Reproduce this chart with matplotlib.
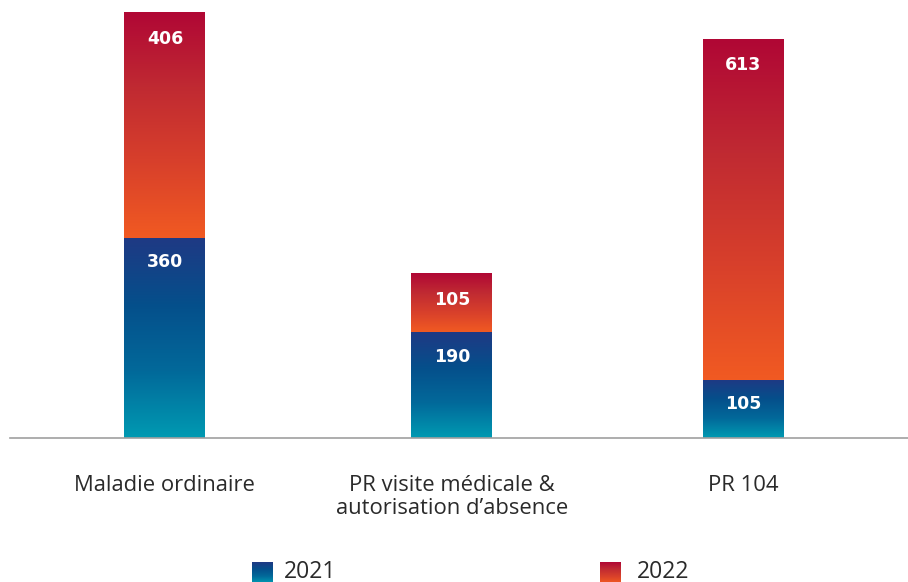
import matplotlib
matplotlib.use("Agg")
import matplotlib.pyplot as plt
from matplotlib.colors import LinearSegmentedColormap
import numpy as np

categories = ["Maladie ordinaire", "PR visite médicale &\nautorisation d’absence", "PR 104"]
years = ["2021", "2022"]
v2021 = [360, 190, 105]
v2022 = [406, 105, 613]

plt.rcParams['font.family'] = ['Open Sans', 'DejaVu Sans']

# vertical gradients, bottom -> top
cmap21 = LinearSegmentedColormap.from_list("c21", ["#009ab2", "#02699a", "#054f8b", "#1f3984"])
cmap22 = LinearSegmentedColormap.from_list("c22", ["#f15a22", "#d8402b", "#c02a32", "#b00735"])
grad = np.linspace(0, 1, 256).reshape(-1, 1)

fig = plt.figure(figsize=(9.08, 5.82), dpi=100)
ax = fig.add_axes([10/908, 144/582, 898/908, 438/582])

x = np.array([0, 0.993, 2])
width = 0.28
num_font = dict(color="white", fontsize=12.5, fontweight="bold", family="DejaVu Sans", zorder=3)

def grad_bar(ax, xc, bottom, h, cmap):
    ax.imshow(grad, cmap=cmap, origin="lower", aspect="auto",
              extent=(xc - width/2, xc + width/2, bottom, bottom + h), zorder=2)

for i in range(len(categories)):
    grad_bar(ax, x[i], 0, v2021[i], cmap21)
    grad_bar(ax, x[i], v2021[i], v2022[i], cmap22)
    ax.annotate(str(v2021[i]), (x[i], v2021[i]), xytext=(0, -17.5), textcoords="offset points",
                ha="center", va="center", **num_font)
    ax.annotate(str(v2022[i]), (x[i], v2021[i] + v2022[i]), xytext=(0, -19), textcoords="offset points",
                ha="center", va="center", **num_font)
    ax.annotate(categories[i], (x[i], 0), xytext=(0, -26.5), textcoords="offset points",
                ha="center", va="top", color="#2a2a2a", fontsize=15.8, linespacing=1.15)

ax.set_xlim(-0.536, 2.571)
ax.set_ylim(0, 788)
for s in ["top", "right", "left"]:
    ax.spines[s].set_visible(False)
ax.spines["bottom"].set_color("#a0a0a0")
ax.spines["bottom"].set_linewidth(1.2)
ax.set_xticks([])
ax.set_yticks([])
ax.patch.set_alpha(0)

# legend drawn in pixel space at the bottom
lg = fig.add_axes([0, 0, 1, 1], zorder=-1)
lg.set_xlim(0, 908)
lg.set_ylim(582, 0)
lg.axis("off")
for lx, tx, cm, label in [(252, 284, cmap21, years[0]), (600, 637, cmap22, years[1])]:
    lg.imshow(grad, cmap=cm, origin="lower", aspect="auto", extent=(lx, lx + 21, 583, 562))
    lg.text(tx, 572, label, ha="left", va="center", fontsize=16.5, color="#2a2a2a")
lg.set_xlim(0, 908)
lg.set_ylim(582, 0)

fig.savefig("out.png", dpi=100)
